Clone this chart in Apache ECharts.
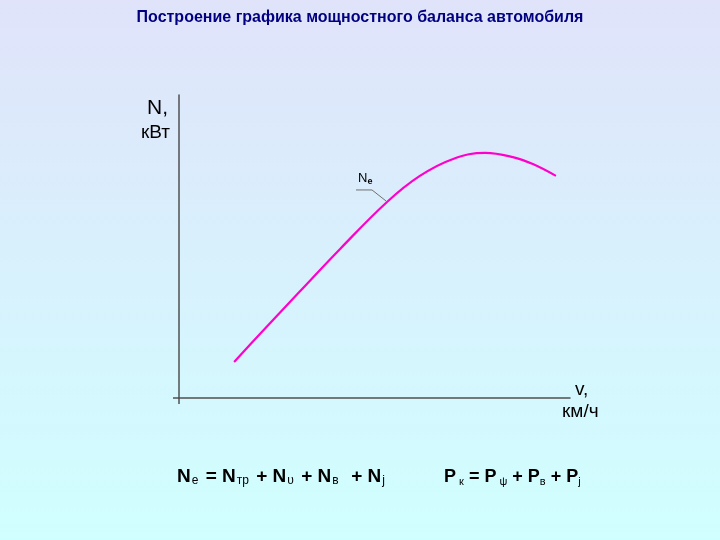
<!DOCTYPE html>
<html><head><meta charset="utf-8">
<script src="https://cdn.jsdelivr.net/npm/echarts@6/dist/echarts.min.js"></script>
<style>html,body{margin:0;padding:0}#c{width:720px;height:540px}</style>
</head><body><div id="c"></div>
<script>
const speed = [14.1, 20.7, 31.0, 41.2, 53.2, 61.6, 70.1, 78.3, 85.4, 90.5, 96.4];
const power = [11.9, 21.1, 35.3, 49.2, 64.7, 73.3, 78.9, 80.9, 79.5, 77.2, 73.3];
const titleText = 'Построение графика мощностного баланса автомобиля';
const yName = ['N,', 'кВт'];
const xName = ['v,', 'км/ч'];
const curveLabel = ['N', 'е'];

(function () {
const chart = echarts.init(document.getElementById('c'));
const data = speed.map((v, i) => [v, power[i]]);
const f = 'Liberation Sans, Arial, sans-serif';
chart.setOption({
  backgroundColor: new echarts.graphic.LinearGradient(0, 0, 0, 1, [
    {offset: 0, color: '#E0E3FA'}, {offset: 1, color: '#D0FFFF'}]),
  animation: false,
  title: {text: titleText, left: 'center', top: 5,
    textStyle: {fontFamily: f, fontSize: 16, fontWeight: 'bold', color: '#000080'}},
  grid: {left: 179, right: 150, top: 95, bottom: 142},
  xAxis: {type: 'value', min: 0, max: 100, splitLine: {show: false},
    axisLabel: {show: false}, axisTick: {show: false},
    axisLine: {show: true, lineStyle: {color: '#505050', width: 1.5}}},
  yAxis: {type: 'value', min: 0, max: 100, splitLine: {show: false},
    axisLabel: {show: false}, axisTick: {show: false},
    axisLine: {show: true, lineStyle: {color: '#505050', width: 1.5}}},
  series: [{type: 'line', data: data, smooth: 0.4, showSymbol: false,
    lineStyle: {color: '#FF00CC', width: 2.2}}]
});

const p = chart.convertToPixel({gridIndex: 0}, data[4]);
const o = chart.convertToPixel({gridIndex: 0}, [0, 0]);
const yt = chart.convertToPixel({gridIndex: 0}, [0, 100]);
const xr = chart.convertToPixel({gridIndex: 0}, [100, 0]);
chart.setOption({graphic: [
  {type: 'line', shape: {x1: o[0], y1: o[1], x2: o[0], y2: o[1] + 6}, style: {stroke: '#505050', lineWidth: 1.5}},
  {type: 'line', shape: {x1: o[0] - 6, y1: o[1], x2: o[0], y2: o[1]}, style: {stroke: '#505050', lineWidth: 1.5}},
  {type: 'text', x: yt[0] - 32, y: yt[1] + 3, style: {text: yName[0], font: '21px ' + f, fill: '#000'}},
  {type: 'text', x: yt[0] - 38, y: yt[1] + 28, style: {text: yName[1], font: '19px ' + f, fill: '#000'}},
  {type: 'text', x: xr[0] + 5, y: xr[1] - 18, style: {text: xName[0], font: '19px ' + f, fill: '#000'}},
  {type: 'text', x: xr[0] - 8, y: xr[1] + 4, style: {text: xName[1], font: '19px ' + f, fill: '#000'}},
  {type: 'polyline', shape: {points: [[p[0] - 31, p[1] - 12], [p[0] - 15, p[1] - 12], [p[0] - 1, p[1] - 1]]},
    style: {stroke: '#707070', lineWidth: 1, fill: null}},
  {type: 'text', x: p[0] - 29, y: p[1] - 31, style: {
    text: '{m|' + curveLabel[0] + '}{s|' + curveLabel[1] + '}',
    rich: {m: {fontSize: 13, fontFamily: f, fill: '#000'},
           s: {fontSize: 9, fontFamily: f, fontWeight: 'bold', padding: [6, 0, 0, 0], fill: '#000'}}}},
  {type: 'text', x: 177, y: 467, style: {
    text: '{m|N}{s|е}{m| = N}{s|тр}{m| + N}{s|υ}{m| + N}{s|в}{m|  + N}{s|j}',
    rich: {m: {fontSize: 19, fontFamily: f, fontWeight: 'bold', fill: '#000'},
           s: {fontSize: 12, fontFamily: f, fill: '#000', padding: [8, 2, 0, 1]}}}},
  {type: 'text', x: 444, y: 468, style: {
    text: '{m|P}{s| к}{m| = P}{s| ψ}{m| + P}{s|в}{m| + P}{s|j}',
    rich: {m: {fontSize: 18, fontFamily: f, fontWeight: 'bold', fill: '#000'},
           s: {fontSize: 11, fontFamily: f, fill: '#000', padding: [8, 0, 0, 0]}}}}
]});
})();
</script></body></html>
